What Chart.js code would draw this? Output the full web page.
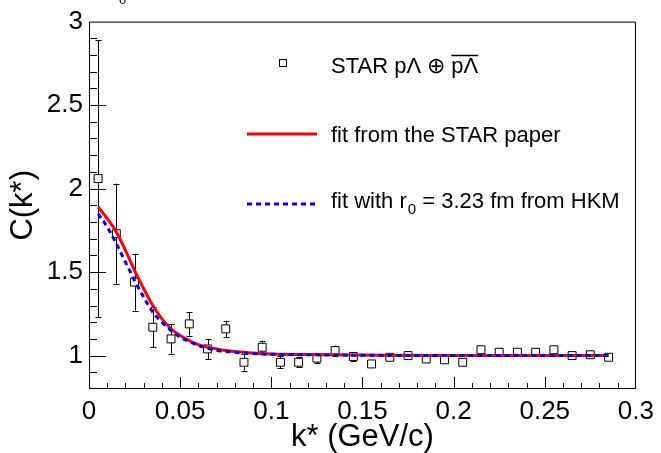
<!DOCTYPE html>
<html>
<head>
<meta charset="utf-8">
<script src="https://cdn.jsdelivr.net/npm/chart.js@4.4.1/dist/chart.umd.min.js"></script>
<style>
  html, body { margin: 0; padding: 0; background: #fff; }
</style>
</head>
<body>
<canvas id="myChart" width="661" height="453"></canvas>
<script>
// STAR p-Lambda correlation points
var kStar = [0.005, 0.015, 0.025, 0.035, 0.045, 0.055, 0.065, 0.075, 0.085, 0.095,
             0.105, 0.115, 0.125, 0.135, 0.145, 0.155, 0.165, 0.175, 0.185, 0.195,
             0.205, 0.215, 0.225, 0.235, 0.245, 0.255, 0.265, 0.275, 0.285];
var cStar = [2.06, 1.73, 1.44, 1.17, 1.10, 1.19, 1.04, 1.16, 0.96, 1.05,
             0.96, 0.96, 0.985, 1.03, 0.995, 0.95, 0.99, 1.00, 0.98, 0.975,
             0.96, 1.035, 1.02, 1.02, 1.02, 1.035, 1.00, 1.005, 0.99];
var cErr = [0.83, 0.30, 0.17, 0.12, 0.09, 0.07, 0.06, 0.05, 0.05, 0.04,
            0.035, 0.03, 0.03, 0.03, 0.025, 0.02, 0.02, 0.02, 0.02, 0.02,
            0.02, 0.02, 0.02, 0.02, 0.02, 0.02, 0.02, 0.02, 0.02];

// fit curves
var fitK = [0.005, 0.01, 0.015, 0.02, 0.025, 0.03, 0.035, 0.04, 0.045, 0.05, 0.055, 0.06,
            0.065, 0.07, 0.075, 0.08, 0.09, 0.1, 0.12, 0.15, 0.2, 0.25, 0.285];
var fitStar = [1.89, 1.82, 1.74, 1.63, 1.51, 1.40, 1.30, 1.22, 1.16, 1.12, 1.09, 1.065,
               1.05, 1.04, 1.03, 1.025, 1.015, 1.01, 1.006, 1.003, 1.0, 1.0, 1.0];
var fitHkm = [1.85, 1.77, 1.67, 1.56, 1.45, 1.35, 1.26, 1.20, 1.15, 1.11, 1.085, 1.06,
              1.045, 1.03, 1.025, 1.02, 1.012, 1.008, 1.005, 1.002, 1.0, 1.0, 1.0];

var xTicks = [0, 0.05, 0.1, 0.15, 0.2, 0.25, 0.3];
var yTicks = [1, 1.5, 2, 2.5, 3];

var FONT = '"Liberation Sans", Arial, Helvetica, sans-serif';

function pts(xs, ys) {
  return xs.map(function(x, i) { return { x: x, y: ys[i] }; });
}

// error bars under the markers
var errorBars = {
  id: 'errorBars',
  beforeDatasetDraw: function(chart, args) {
    if (args.index !== 0) return;
    var ctx = chart.ctx, xs = chart.scales.x, ys = chart.scales.y;
    var half = 4, cap = 3;
    ctx.save();
    ctx.strokeStyle = '#000';
    ctx.lineWidth = 1;
    ctx.beginPath();
    for (var i = 0; i < kStar.length; i++) {
      var px = Math.round(xs.getPixelForValue(kStar[i])) + 0.5;
      var cy = ys.getPixelForValue(cStar[i]);
      var top = ys.getPixelForValue(cStar[i] + cErr[i]);
      var bot = ys.getPixelForValue(cStar[i] - cErr[i]);
      if (cy - top > half) {
        ctx.moveTo(px, top); ctx.lineTo(px, cy - half);
        ctx.moveTo(px - cap, Math.round(top) + 0.5); ctx.lineTo(px + cap, Math.round(top) + 0.5);
      }
      if (bot - cy > half) {
        ctx.moveTo(px, cy + half); ctx.lineTo(px, bot);
        ctx.moveTo(px - cap, Math.round(bot) + 0.5); ctx.lineTo(px + cap, Math.round(bot) + 0.5);
      }
    }
    ctx.stroke();
    ctx.restore();
  }
};

// ROOT style frame with inner ticks, legend and texts
var frameAndLegend = {
  id: 'frameAndLegend',
  afterDraw: function(chart) {
    var ctx = chart.ctx, a = chart.chartArea;
    var xs = chart.scales.x, ys = chart.scales.y;
    ctx.save();
    ctx.strokeStyle = '#000';
    ctx.lineWidth = 1;
    ctx.beginPath();
    var i, v, p, len;
    for (i = 1; i < 30; i++) {
      v = i * 0.01;
      p = Math.round(xs.getPixelForValue(v)) + 0.5;
      len = (i % 5 === 0) ? 12 : 6;
      ctx.moveTo(p, a.bottom); ctx.lineTo(p, a.bottom - len);
    }
    for (i = 9; i < 30; i++) {
      v = i * 0.1;
      p = Math.round(ys.getPixelForValue(v)) + 0.5;
      len = (i % 5 === 0) ? 17 : 8;
      ctx.moveTo(a.left, p); ctx.lineTo(a.left + len, p);
    }
    ctx.stroke();
    ctx.strokeRect(a.left + 0.5, a.top + 0.5, a.right - a.left - 1, a.bottom - a.top - 1);

    // legend
    ctx.fillStyle = '#fff';
    ctx.fillRect(279, 59, 8, 8);
    ctx.strokeRect(279.5, 59.5, 7, 7);

    ctx.strokeStyle = '#ff0000';
    ctx.lineWidth = 3;
    ctx.beginPath(); ctx.moveTo(247, 134); ctx.lineTo(317, 134); ctx.stroke();

    ctx.strokeStyle = '#0000ff';
    ctx.setLineDash([5, 4]);
    ctx.beginPath(); ctx.moveTo(247, 204); ctx.lineTo(317, 204); ctx.stroke();
    ctx.setLineDash([]);

    ctx.fillStyle = '#000';
    ctx.textAlign = 'left';
    ctx.textBaseline = 'alphabetic';
    ctx.font = '22px ' + FONT;
    var pre = 'STAR p\u039B \u2295 ';
    ctx.fillText(pre + 'p\u039B', 331, 73);
    var w0 = ctx.measureText(pre).width, w1 = ctx.measureText('p\u039B').width;
    ctx.strokeStyle = '#000';
    ctx.lineWidth = 1.5;
    ctx.beginPath(); ctx.moveTo(331 + w0, 55.5); ctx.lineTo(331 + w0 + w1, 55.5); ctx.stroke();

    ctx.fillText('fit from the STAR paper', 331, 142);

    var s1 = 'fit with r';
    ctx.fillText(s1, 331, 208);
    var x1 = 331 + ctx.measureText(s1).width;
    ctx.font = '15px ' + FONT;
    ctx.fillText('0', x1 + 1, 214);
    var x2 = x1 + 1 + ctx.measureText('0').width;
    ctx.font = '22px ' + FONT;
    ctx.fillText(' = 3.23 fm from HKM', x2, 208);

    // clipped title fragment at the top
    ctx.font = '13px ' + FONT;
    ctx.fillText('0', 119, 4);
    ctx.restore();
  }
};

var ctx = document.getElementById('myChart').getContext('2d');
var myChart = new Chart(ctx, {
  type: 'scatter',
  data: {
    datasets: [
      {
        label: 'STAR pΛ ⊕ pΛ',
        data: pts(kStar, cStar),
        showLine: false,
        pointStyle: 'rect',
        pointRadius: 5.6,
        pointBackgroundColor: '#fff',
        pointBorderColor: '#000',
        pointBorderWidth: 1,
        order: 3
      },
      {
        label: 'fit from the STAR paper',
        data: pts(fitK, fitStar),
        showLine: true,
        borderColor: '#ff0000',
        borderWidth: 3,
        pointRadius: 0,
        cubicInterpolationMode: 'monotone',
        order: 2
      },
      {
        label: 'fit with r0 = 3.23 fm from HKM',
        data: pts(fitK, fitHkm),
        showLine: true,
        borderColor: '#0000ff',
        borderWidth: 3,
        borderDash: [5, 4],
        pointRadius: 0,
        cubicInterpolationMode: 'monotone',
        order: 1
      }
    ]
  },
  options: {
    responsive: false,
    animation: false,
    layout: { padding: { top: 20, right: 20, left: 0, bottom: 0 } },
    plugins: {
      legend: { display: false },
      tooltip: { enabled: false }
    },
    scales: {
      x: {
        type: 'linear',
        min: 0,
        max: 0.3,
        afterBuildTicks: function(s) { s.ticks = xTicks.map(function(v) { return { value: v }; }); },
        afterFit: function(s) { s.height = 64; },
        grid: { display: false, drawTicks: false },
        border: { display: false },
        ticks: {
          color: '#000',
          padding: 7,
          maxRotation: 0,
          font: { family: FONT, size: 26 },
          callback: function(v) { return String(parseFloat(v.toFixed(2))); }
        },
        title: {
          display: true,
          text: 'k* (GeV/c)',
          color: '#000',
          font: { family: FONT, size: 31, lineHeight: 1 },
          padding: { top: 0, bottom: 0 }
        }
      },
      y: {
        type: 'linear',
        min: 0.8,
        max: 3,
        afterBuildTicks: function(s) { s.ticks = yTicks.map(function(v) { return { value: v }; }); },
        afterFit: function(s) { s.width = 89; },
        grid: { display: false, drawTicks: false },
        border: { display: false },
        ticks: {
          color: '#000',
          padding: 6,
          font: { family: FONT, size: 26 },
          callback: function(v) { return String(parseFloat(v.toFixed(1))); }
        },
        title: {
          display: true,
          text: 'C(k*)',
          color: '#000',
          font: { family: FONT, size: 31, lineHeight: 1 },
          padding: { top: 8, bottom: 0 }
        }
      }
    }
  },
  plugins: [errorBars, frameAndLegend]
});
</script>
</body>
</html>
